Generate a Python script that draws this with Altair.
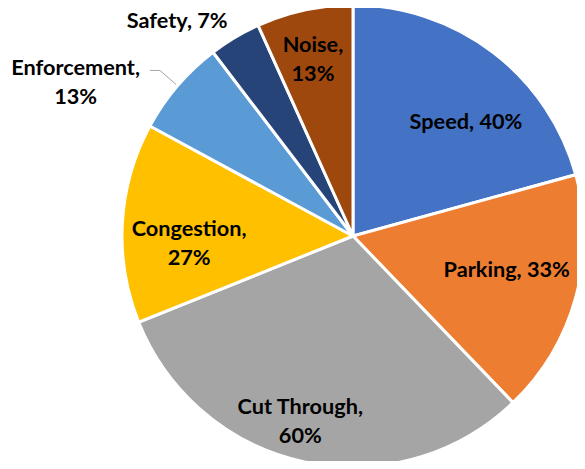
import altair as alt
import pandas as pd

categories = ["Speed", "Parking", "Cut Through", "Congestion", "Enforcement", "Safety", "Noise"]
values = [40, 33, 60, 27, 13, 7, 13]
label_texts = ["Speed, 40%", "Parking, 33%", "Cut Through,\n60%", "Congestion,\n27%",
               "Enforcement,\n13%", "Safety, 7%", "Noise,\n13%"]
colors = ["#4472C4", "#ED7D31", "#A5A5A5", "#FFC000", "#5B9BD5", "#264478", "#9E480E"]

# layout (styling) for the labels: radius in px and angular offset in degrees
LABEL_R = [162, 157, 191, 164, 318, 279, 183]
LABEL_OFF = [6.9, -3.7, 3.9, -5.3, -11.3, -8.3, -0.5]
LINE_H = 29

CX, CY, R = 345, 228, 231

df = pd.DataFrame({"category": categories, "value": values, "label": label_texts,
                   "idx": list(range(len(categories)))})

base = alt.Chart(df)

arcs = base.mark_arc(outerRadius=R, stroke="white", strokeWidth=3).encode(
    theta=alt.Theta("value:Q", stack=True),
    color=alt.Color("category:N", scale=alt.Scale(domain=categories, range=colors), legend=None),
    order=alt.Order("idx:Q"),
    x=alt.value(CX), y=alt.value(CY),
)

pos = base.transform_window(
    cum="sum(value)", sort=[alt.SortField("idx")], frame=[None, 0]
).transform_joinaggregate(total="sum(value)").transform_calculate(
    mid="(datum.cum - datum.value/2) / datum.total * 2 * PI",
    r=f"{LABEL_R}[datum.idx]",
    off=f"{LABEL_OFF}[datum.idx]",
    nl="indexof(datum.label, '\\n') >= 0 ? 1 : 0",
).transform_calculate(
    a="datum.mid + datum.off * PI / 180",
).transform_calculate(
    lx=f"{CX} + datum.r * sin(datum.a)",
    ly=f"{CY} - datum.r * cos(datum.a) - datum.nl * {LINE_H / 2} + 2",
    ex=f"{CX} + {R + 2} * sin(datum.mid)",
    ey=f"{CY} - {R + 2} * cos(datum.mid)",
)

text = pos.mark_text(
    font="Lato", fontWeight="bold", fontSize=21.7, color="black",
    align="center", baseline="middle", lineBreak="\n", lineHeight=LINE_H,
).encode(
    x=alt.X("lx:Q", scale=None), y=alt.Y("ly:Q", scale=None), text="label:N"
)

leader = pos.transform_filter(alt.datum.category == "Enforcement").transform_calculate(
    bx="datum.ex - 16", by="datum.ey - 14"
)
seg1 = leader.mark_rule(color="#A6A6A6", strokeWidth=1).encode(
    x=alt.X("ex:Q", scale=None), y=alt.Y("ey:Q", scale=None),
    x2="bx:Q", y2="by:Q",
)
seg2 = leader.transform_calculate(cx2="datum.bx - 10").mark_rule(color="#A6A6A6", strokeWidth=1).encode(
    x=alt.X("bx:Q", scale=None), y=alt.Y("by:Q", scale=None),
    x2="cx2:Q", y2="by:Q",
)

chart = alt.layer(arcs, seg1, seg2, text).properties(
    width=569, height=453, padding=0, autosize="none"
).configure_view(stroke=None)

chart.save("out.html", embed_options={"renderer": "svg", "actions": False})
